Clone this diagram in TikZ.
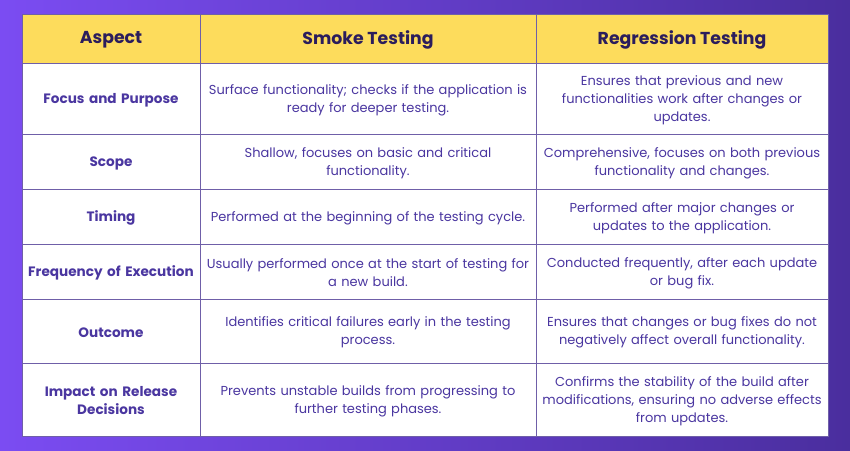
\documentclass[tikz,border=0pt]{standalone}
\usepackage{fontspec}
\setmainfont{Poppins}
\usetikzlibrary{positioning}
\definecolor{bgleft}{HTML}{7B4CF2}
\definecolor{bgright}{HTML}{4A2E9E}
\definecolor{headyellow}{HTML}{FDDC5C}
\definecolor{headtext}{HTML}{2B1D5C}
\definecolor{celltext}{HTML}{4A36A0}
\definecolor{gridline}{HTML}{6F5FA8}
\tikzset{
  every node/.style={yshift=-1.5pt},
  head/.style={font=\fontsize{17.3}{20}\selectfont\bfseries, text=headtext, align=center},
  aspect/.style={font=\fontsize{13.6}{18}\selectfont\bfseries, text=celltext, align=center, text width=175pt},
  cell/.style={font=\fontsize{13}{18}\selectfont, text=celltext, align=center, text width=330pt}
}
\begin{document}
\begin{tikzpicture}[x=1pt,y=-1pt]
  \shade[left color=bgleft, right color=bgright] (0,0) rectangle (850,450);
  \useasboundingbox (0,0) rectangle (850,450);
  % table body
  \fill[white] (22,14) rectangle (828,436);
  \fill[headyellow] (22,14) rectangle (828,63);
  \foreach \y in {63,134,189,244,299,363}
    \draw[gridline, line width=0.8pt] (22,\y) -- (828,\y);
  \foreach \x in {200,536}
    \draw[gridline, line width=0.8pt] (\x,14) -- (\x,436);
  \draw[gridline, line width=0.8pt] (22,14) rectangle (828,436);
  % header
  \node[head] (h1) at (111,38.5) {Aspect};
  \node[head] (h2) at (368,38.5) {Smoke Testing};
  \node[head] (h3) at (682,38.5) {Regression Testing};
  % rows
  \node[aspect] (a1) at (111,98.5) {Focus and Purpose};
  \node[cell] (s1) at (368,98.5) {Surface functionality; checks if the application is\\ready for deeper testing.};
  \node[cell] (r1) at (682,98.5) {Ensures that previous and new\\functionalities work after changes or\\updates.};
  \node[aspect] (a2) at (111,161.5) {Scope};
  \node[cell] (s2) at (368,161.5) {Shallow, focuses on basic and critical\\functionality.};
  \node[cell] (r2) at (682,161.5) {Comprehensive, focuses on both previous\\functionality and changes.};
  \node[aspect] (a3) at (111,216.5) {Timing};
  \node[cell] (s3) at (368,216.5) {Performed at the beginning of the testing cycle.};
  \node[cell] (r3) at (682,216.5) {Performed after major changes or\\updates to the application.};
  \node[aspect] (a4) at (111,271.5) {Frequency of Execution};
  \node[cell] (s4) at (368,271.5) {Usually performed once at the start of testing for\\a new build.};
  \node[cell] (r4) at (682,271.5) {Conducted frequently, after each update\\or bug fix.};
  \node[aspect] (a5) at (111,331) {Outcome};
  \node[cell] (s5) at (368,331) {Identifies critical failures early in the testing\\process.};
  \node[cell] (r5) at (682,331) {Ensures that changes or bug fixes do not\\negatively affect overall functionality.};
  \node[aspect] (a6) at (111,399.5) {Impact on Release\\Decisions};
  \node[cell] (s6) at (368,399.5) {Prevents unstable builds from progressing to\\further testing phases.};
  \node[cell] (r6) at (682,399.5) {Confirms the stability of the build after\\modifications, ensuring no adverse effects\\from updates.};
\end{tikzpicture}
\end{document}
